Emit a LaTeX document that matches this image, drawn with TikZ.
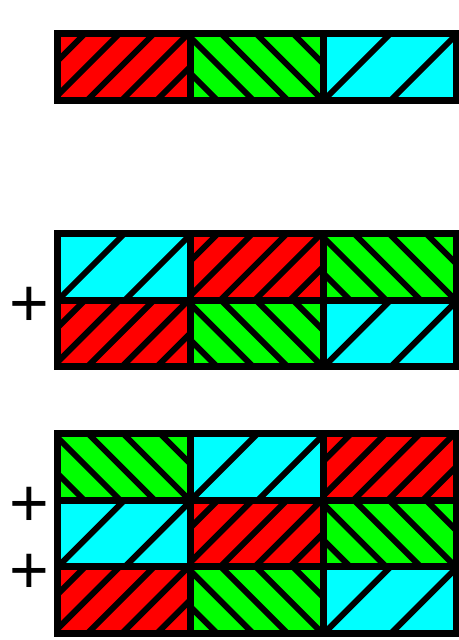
\documentclass[tikz,border=0pt]{standalone}
\usepackage{fontspec}
\setmainfont{Liberation Sans}
\usetikzlibrary{positioning}
\definecolor{hred}{RGB}{255,0,0}
\definecolor{hgreen}{RGB}{0,255,0}
\definecolor{hcyan}{RGB}{0,255,255}

\begin{document}
\begin{tikzpicture}[
  x=1pt, y=-1pt,
  node distance=0pt,
  hatch/.style={line width=6pt, black},
  frame/.style={line width=7pt, black},
  cell/.style={rectangle, inner sep=0pt, outer sep=0pt, anchor=north west,
               minimum width=133pt, minimum height=66.7pt},
  % hatch lines, given from the cell centre
  redcell/.style={cell, fill=hred, path picture={
    \foreach \c in {28,62.5,97,131.5,166.5}
      \draw[hatch] (\c-46.5,-53.35) -- (\c-153.2,53.35);}},
  greencell/.style={cell, fill=hgreen, path picture={
    \foreach \c in {-39.5,-3.5,31,66,103}
      \draw[hatch] (\c-86.5,-53.35) -- (\c+20.2,53.35);}},
  cyancell/.style={cell, fill=hcyan, path picture={
    \foreach \c in {67.5,134.5}
      \draw[hatch] (\c-46.5,-53.35) -- (\c-153.2,53.35);}},
  plus/.style={font=\fontsize{68}{68}\selectfont, inner sep=0pt}
]
  \useasboundingbox (0,0) rectangle (458,640);

  % one row
  \node[redcell] (a11) at (57,33.5) {};
  \node[greencell, right=of a11] (a12) {};
  \node[cyancell, right=of a12] (a13) {};

  % two rows
  \node[cyancell] (b11) at (57,233.5) {};
  \node[redcell, right=of b11] (b12) {};
  \node[greencell, right=of b12] (b13) {};
  \node[redcell, below=of b11] (b21) {};
  \node[greencell, right=of b21] (b22) {};
  \node[cyancell, right=of b22] (b23) {};

  % three rows
  \node[greencell] (c11) at (57,433.5) {};
  \node[cyancell, right=of c11] (c12) {};
  \node[redcell, right=of c12] (c13) {};
  \node[cyancell, below=of c11] (c21) {};
  \node[redcell, right=of c21] (c22) {};
  \node[greencell, right=of c22] (c23) {};
  \node[redcell, below=of c21] (c31) {};
  \node[greencell, right=of c31] (c32) {};
  \node[cyancell, right=of c32] (c33) {};

  % frames
  \draw[frame] (a11.north west) rectangle (a13.south east);
  \draw[frame] (a11.north east) -- (a11.south east)
               (a12.north east) -- (a12.south east);

  \draw[frame] (b11.north west) rectangle (b23.south east);
  \draw[frame] (b11.south west) -- (b13.south east)
               (b11.north east) -- (b21.south east)
               (b12.north east) -- (b22.south east);

  \draw[frame] (c11.north west) rectangle (c33.south east);
  \draw[frame] (c11.south west) -- (c13.south east)
               (c21.south west) -- (c23.south east)
               (c11.north east) -- (c31.south east)
               (c12.north east) -- (c32.south east);

  \node[plus] (p1) at (29,307) {+};
  \node[plus] (p2) at (29,507) {+};
  \node[plus] (p3) at (29,574) {+};
\end{tikzpicture}
\end{document}
